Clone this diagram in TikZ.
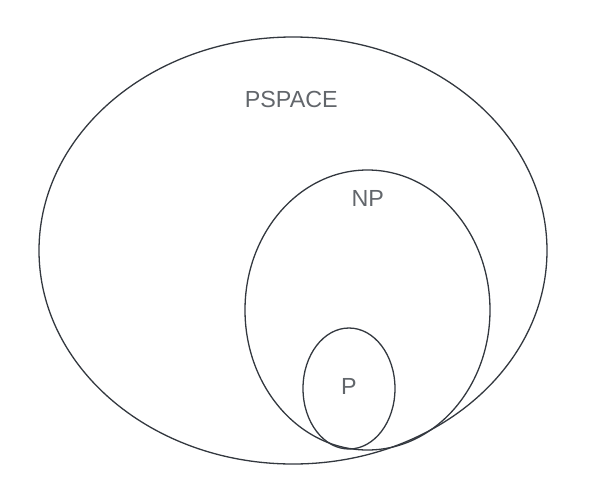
\documentclass[tikz,border=0pt]{standalone}
\usepackage{fontspec}
\setmainfont{Liberation Sans}
\definecolor{rim}{HTML}{33383F}
\definecolor{labelgrey}{HTML}{62666B}

\begin{document}
\begin{tikzpicture}[x=1pt, y=-1pt, font=\fontsize{23.3}{28}\selectfont,
  set/.style={draw=rim, line width=1.3pt},
  setlabel/.style={text=labelgrey, inner sep=0pt}]
  \useasboundingbox (0,0) rectangle (606,496);

  % PSPACE: outer set
  \draw[set] (293, 250.5) ellipse [x radius=254, y radius=213.5];

  % NP inside PSPACE
  \draw[set] (367.5, 310) ellipse [x radius=122.5, y radius=140];

  % P inside NP
  \draw[set] (349, 388.5) ellipse [x radius=46, y radius=60.5];

  % Labels
  \node[setlabel] (pspace) at (291.3, 99.7) {PSPACE};
  \node[setlabel] (np) at (367.8, 198.8) {NP};
  \node[setlabel] (p) at (348.8, 386) {P};
\end{tikzpicture}
\end{document}
